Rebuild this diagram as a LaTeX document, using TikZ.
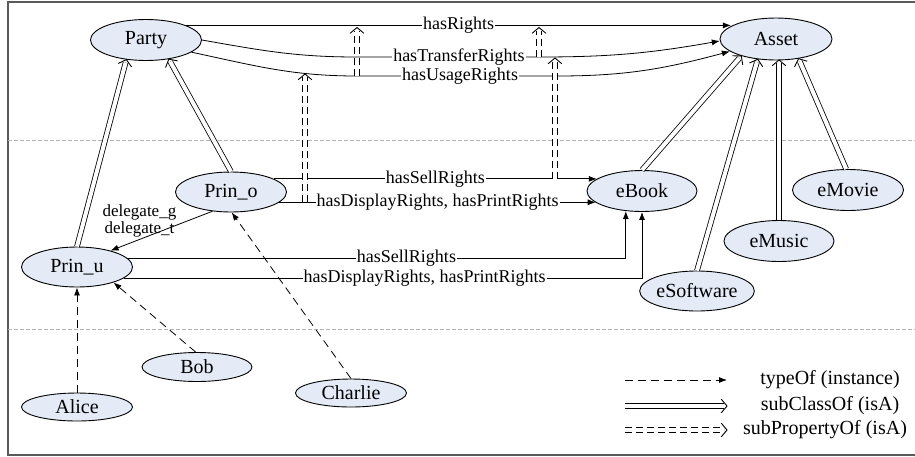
\documentclass[tikz,border=0pt]{standalone}
\usepackage{fontspec}
\setmainfont{Liberation Serif}
\usetikzlibrary{shapes.geometric,arrows.meta,calc}
\definecolor{nodefill}{RGB}{228,235,247}
\definecolor{framecol}{RGB}{90,90,90}
\newcommand\isaarrow[3]{%
  \draw[#1, shorten >=3pt] (#2) -- (#3);
  \draw[isahead] ($(#3)!9pt!50:(#2)$) -- (#3) -- ($(#3)!9pt!-50:(#2)$);}
\begin{document}
\begin{tikzpicture}[x=1pt,y=-1pt,
  cls/.style={ellipse, draw, line width=0.9pt, fill=nodefill, minimum width=111pt, minimum height=40pt, inner sep=0pt, font=\fontsize{20}{20}\selectfont},
  inst/.style={cls, minimum height=28pt},
  rel/.style={draw, line width=0.8pt, -{Latex[length=8pt,width=6pt]}},
  lbl/.style={fill=white, inner sep=1pt, font=\fontsize{18}{18}\selectfont},
  subcls/.style={draw, line width=0.8pt, double, double distance=4pt},
  subprop/.style={subcls, dash pattern=on 7pt off 4pt},
  isahead/.style={draw, line width=0.9pt, line join=miter},
  typeof/.style={draw, line width=0.8pt, dash pattern=on 8pt off 5pt, -{Latex[length=8pt,width=6pt]}},
  sepline/.style={draw=gray!60, line width=0.6pt, dash pattern=on 4pt off 2pt},
  legtext/.style={inner sep=0pt, font=\fontsize{20}{20}\selectfont}
]
\useasboundingbox (0,0) rectangle (915,456);
% frame
\draw[framecol, line width=1.2pt] (915,2) -- (8,2) -- (8,455) -- (915,455);
\draw[sepline] (8,140) -- (915,140);
\draw[sepline] (8,329) -- (915,329);

% nodes
\node[cls, minimum height=41pt] (Party) at (146,40) {Party};
\node[cls, minimum width=112pt, minimum height=42pt] (Asset) at (776,39) {Asset};
\node[cls] (Prin_o) at (231,192) {Prin\_o};
\node[cls] (Prin_u) at (77,267) {Prin\_u};
\node[cls, minimum width=110pt, minimum height=41pt] (eBook) at (642,191) {eBook};
\node[cls, minimum height=41pt] (eMovie) at (848,190) {eMovie};
\node[cls, minimum width=110pt, minimum height=41pt] (eMusic) at (779,241) {eMusic};
\node[cls] (eSoftware) at (697,291) {eSoftware};
\node[inst, minimum width=110pt, minimum height=29pt] (Bob) at (197,367) {Bob};
\node[inst] (Alice) at (77,407) {Alice};
\node[inst] (Charlie) at (351,393) {Charlie};

% junction coordinates
\coordinate (T1) at (357,57);
\coordinate (T2) at (539,57);
\coordinate (T3) at (555,58);
\coordinate (U1) at (357,76);
\coordinate (U2) at (557,76);
\coordinate (U0) at (305,74);
\coordinate (R1) at (357,27.5);
\coordinate (R2) at (539,27.5);
\coordinate (D0) at (305,202.2);
\coordinate (S0) at (555,179);
\coordinate (MusicTop) at (779,60);

% Party -> Asset relations
\draw[rel] (Party.20) -- node[lbl]{hasRights} (Party.20 -| Asset.164);
\draw[rel] (Party.east) to[out=-10,in=180] (T1) -- node[lbl,pos=0.56]{hasTransferRights} (T2) to[out=0,in=190] (Asset.182);
\draw[rel] (Party.-15) to[out=-12,in=180] (U1) -- node[lbl,pos=0.515]{hasUsageRights} (U2) to[out=0,in=195] (Asset.195);

% Prin_o -> eBook
\draw[rel] (Prin_o.17) -- node[lbl]{hasSellRights} (Prin_o.17 -| eBook.165);
\draw[rel] (Prin_o.-12) -- node[lbl]{hasDisplayRights, hasPrintRights} (Prin_o.-12 -| eBook.194);

% Prin_u -> eBook
\draw[rel] (Prin_u.10) -| node[lbl,pos=0.28]{hasSellRights} (eBook.231);
\draw[rel] (Prin_u.-13) -| node[lbl,pos=0.29]{hasDisplayRights, hasPrintRights} (eBook.south);

% delegation
\draw[rel] (Prin_o.226) -- node[pos=0.5, xshift=-22pt, yshift=10pt, align=center, inner sep=0pt, font=\fontsize{17}{17}\selectfont]{delegate\_g\\delegate\_t} (Prin_u.26);

% subPropertyOf
\isaarrow{subprop}{U1}{R1}
\isaarrow{subprop}{T2}{R2}
\isaarrow{subprop}{D0}{U0}
\isaarrow{subprop}{S0}{T3}

% subClassOf
\isaarrow{subcls}{Prin_u.north}{Party.225}
\isaarrow{subcls}{Prin_o.north}{Party.-40}
\isaarrow{subcls}{eBook.north}{Asset.206}
\isaarrow{subcls}{eSoftware.north}{Asset.228}
\isaarrow{subcls}{eMusic.north}{MusicTop}
\isaarrow{subcls}{eMovie.95}{Asset.-41}

% typeOf
\draw[typeof] (Alice.north) -- (Prin_u.south);
\draw[typeof] (Bob.95) -- (Prin_u.-23);
\draw[typeof] (Charlie.north) -- (Prin_o.-88);

% legend
\coordinate (La1) at (625,380); \coordinate (Lb1) at (727,380);
\coordinate (La2) at (625,406); \coordinate (Lb2) at (727,406);
\coordinate (La3) at (625,430); \coordinate (Lb3) at (727,430);
\draw[typeof] (La1) -- (Lb1);
\isaarrow{subcls}{La2}{Lb2}
\isaarrow{subprop}{La3}{Lb3}
\node[legtext] (Lt1) at (830,380) {typeOf (instance)};
\node[legtext] (Lt2) at (830,406) {subClassOf (isA)};
\node[legtext] (Lt3) at (825,430) {subPropertyOf (isA)};
\end{tikzpicture}
\end{document}
